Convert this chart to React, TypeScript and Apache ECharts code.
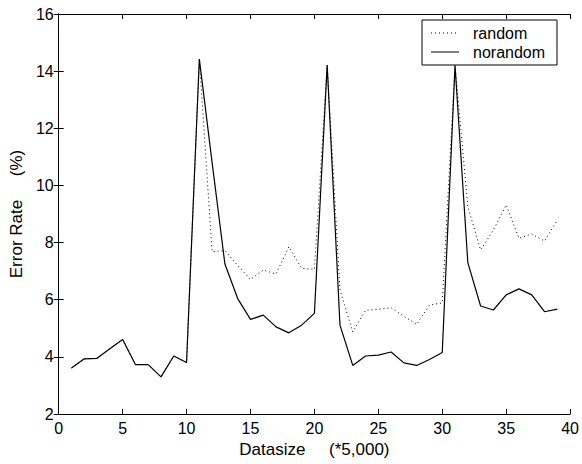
import React, { useEffect, useRef } from "react";
import * as echarts from "echarts";

const xValues = [1, 2, 3, 4, 5, 6, 7, 8, 9, 10, 11, 12, 13, 14, 15, 16, 17, 18, 19, 20, 21, 22, 23, 24, 25, 26, 27, 28, 29, 30, 31, 32, 33, 34, 35, 36, 37, 38, 39];

const norandom = [3.61, 3.93, 3.95, 4.28, 4.61, 3.73, 3.73, 3.3, 4.03, 3.8, 14.42, 10.8, 7.25, 6.04, 5.31, 5.46, 5.05, 4.84, 5.11, 5.52, 14.21, 5.11, 3.7, 4.03, 4.06, 4.17, 3.79, 3.7, 3.91, 4.15, 14.2, 7.3, 5.78, 5.64, 6.17, 6.38, 6.17, 5.58, 5.67];

const random = [3.61, 3.93, 3.95, 4.28, 4.61, 3.73, 3.73, 3.3, 4.03, 3.8, 14.42, 7.68, 7.72, 7.2, 6.71, 7.04, 6.9, 7.85, 7.1, 7.06, 14.21, 6.34, 4.87, 5.63, 5.66, 5.72, 5.42, 5.14, 5.81, 5.89, 14.2, 9.26, 7.74, 8.44, 9.32, 8.15, 8.3, 8.05, 8.79];

const seriesNames = ["random", "norandom"];
const xAxisName = "Datasize     (*5,000)";
const yAxisName = "Error Rate     (%)";

const FONT = "Liberation Sans, Arial, Helvetica, sans-serif";

export default function App() {
  const ref = useRef<HTMLDivElement>(null);
  useEffect(() => {
    if (!ref.current) return;
    const chart = echarts.init(ref.current, undefined, { renderer: "svg" });
    const baseAxis = {
      axisLine: { show: true, lineStyle: { color: "#000", width: 1 } },
      axisTick: { show: true, inside: true, length: 5, lineStyle: { color: "#000" } },
      splitLine: { show: false },
    };
    const xAxisCommon = { ...baseAxis, type: "value" as const, min: 0, max: 40, interval: 5 };
    const yAxisCommon = { ...baseAxis, type: "value" as const, min: 2, max: 16, interval: 2 };
    chart.setOption({
      animation: false,
      backgroundColor: "#fff",
      grid: { left: 57, right: 10, top: 14, bottom: 50 },
      xAxis: [
        {
          ...xAxisCommon,
          position: "bottom",
          name: xAxisName,
          nameLocation: "middle",
          nameGap: 22,
          nameTextStyle: { color: "#000", fontSize: 17, fontFamily: FONT },
          axisLabel: { color: "#000", fontSize: 16, fontFamily: FONT, margin: 6 },
        },
        { ...xAxisCommon, position: "top", axisLabel: { show: false } },
      ],
      yAxis: [
        {
          ...yAxisCommon,
          position: "left",
          name: yAxisName,
          nameLocation: "middle",
          nameGap: 22,
          nameTextStyle: { color: "#000", fontSize: 17, fontFamily: FONT },
          axisLabel: { color: "#000", fontSize: 16, fontFamily: FONT, margin: 5 },
        },
        { ...yAxisCommon, position: "right", axisLabel: { show: false } },
      ],
      series: [
        {
          name: seriesNames[0],
          type: "line",
          symbol: "none",
          data: xValues.map((x, i) => [x, random[i]]),
          lineStyle: { color: "#000", width: 1, type: [1, 3] },
          z: 2,
        },
        {
          name: seriesNames[1],
          type: "line",
          symbol: "none",
          data: xValues.map((x, i) => [x, norandom[i]]),
          lineStyle: { color: "#000", width: 1.2, type: "solid" },
          z: 3,
        },
      ],
      graphic: [
        {
          type: "rect",
          shape: { x: 422, y: 20, width: 135, height: 45 },
          style: { fill: "#fff", stroke: "#000", lineWidth: 1 },
          z: 10,
        },
        {
          type: "line",
          shape: { x1: 431, y1: 33, x2: 459, y2: 33 },
          style: { stroke: "#000", lineWidth: 1, lineDash: [1, 3] },
          z: 11,
        },
        {
          type: "line",
          shape: { x1: 431, y1: 52, x2: 459, y2: 52 },
          style: { stroke: "#000", lineWidth: 1 },
          z: 11,
        },
        {
          type: "text",
          x: 473,
          y: 33,
          style: { text: seriesNames[0], fill: "#000", fontSize: 16, fontFamily: FONT, verticalAlign: "middle" },
          z: 11,
        },
        {
          type: "text",
          x: 473,
          y: 52,
          style: { text: seriesNames[1], fill: "#000", fontSize: 16, fontFamily: FONT, verticalAlign: "middle" },
          z: 11,
        },
      ],
    });
    return () => chart.dispose();
  }, []);
  return <div ref={ref} style={{ width: 582, height: 464, position: "absolute", left: 0, top: 0 }} />;
}
